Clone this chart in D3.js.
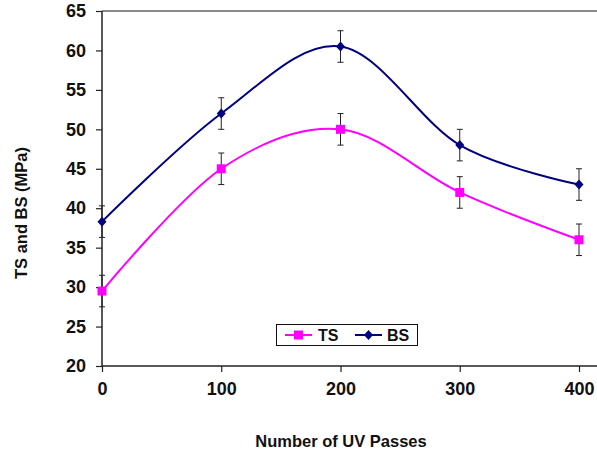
<!DOCTYPE html>
<html>
<head>
<meta charset="utf-8">
<script src="https://cdn.jsdelivr.net/npm/d3@7"></script>
<style>
  html, body { margin: 0; padding: 0; background: #fff; }
  svg { display: block; }
  text { font-family: "Liberation Sans", Arial, sans-serif; font-weight: bold; fill: #111; }
</style>
</head>
<body>
<svg id="chart" width="597" height="455"></svg>
<script>
// UV passes on the x axis
const passes = [0, 100, 200, 300, 400];
// Tensile strength (MPa)
const tsValues = [29.5, 45, 50, 42, 36];
// Bending strength (MPa)
const bsValues = [38.3, 52, 60.5, 48, 43];
// Error bar half-widths (MPa)
const tsErrors = [2, 2, 2, 2, 2];
const bsErrors = [2, 2, 2, 2, 2];
// Axis ticks
const xTicks = [0, 100, 200, 300, 400];
const yTicks = [20, 25, 30, 35, 40, 45, 50, 55, 60, 65];

const svg = d3.select("#chart");
const W = 597, H = 455;
const plotL = 102, plotT = 11, plotB = 366, plotR = 579;

const x = d3.scaleLinear().domain([0, 400]).range([plotL, plotR]);
const y = d3.scaleLinear().domain([20, 65]).range([plotB, plotT]);

// top frame line of plot area
svg.append("line")
  .attr("x1", plotL).attr("x2", W).attr("y1", plotT).attr("y2", plotT)
  .attr("stroke", "#8a8a8a").attr("stroke-width", 2);

// y axis
const yAxis = svg.append("g").attr("transform", `translate(${plotL},0)`)
  .call(d3.axisLeft(y).tickValues(yTicks).tickSize(6).tickPadding(10).tickFormat(d3.format("d")));
yAxis.select(".domain").attr("stroke", "#222").attr("stroke-width", 1.5).attr("d", `M0,${plotT}V${plotB}`);
yAxis.selectAll(".tick line").attr("stroke", "#222").attr("stroke-width", 1.2);
yAxis.selectAll(".tick text").attr("font-size", 18).attr("fill", "#111")
  .attr("font-family", "Liberation Sans, Arial, sans-serif").attr("font-weight", "bold");

// x axis
const xAxis = svg.append("g").attr("transform", `translate(0,${plotB})`)
  .call(d3.axisBottom(x).tickValues(xTicks).tickSize(6).tickPadding(10).tickFormat(d3.format("d")));
xAxis.select(".domain").attr("stroke", "#222").attr("stroke-width", 1.5).attr("d", `M${plotL},0H${W}`);
xAxis.selectAll(".tick line").attr("stroke", "#222").attr("stroke-width", 1.2);
xAxis.selectAll(".tick text").attr("font-size", 18).attr("fill", "#111")
  .attr("font-family", "Liberation Sans, Arial, sans-serif").attr("font-weight", "bold");

// axis titles
svg.append("text")
  .attr("x", 341).attr("y", 447)
  .attr("text-anchor", "middle").attr("font-size", 16.5)
  .text("Number of UV Passes");
svg.append("text")
  .attr("transform", "translate(27,213) rotate(-90)")
  .attr("text-anchor", "middle").attr("font-size", 16.5)
  .text("TS and BS (MPa)");

const curve = d3.curveCatmullRom.alpha(0);
const line = vals => d3.line().curve(curve)
  .x((d, i) => x(passes[i])).y(d => y(d))(vals);

const series = [
  { name: "TS", values: tsValues, errors: tsErrors, color: "#ff00ff", marker: "square" },
  { name: "BS", values: bsValues, errors: bsErrors, color: "#000080", marker: "diamond" }
];

// smoothed lines
series.forEach(s => {
  svg.append("path").attr("d", line(s.values))
    .attr("fill", "none").attr("stroke", s.color).attr("stroke-width", 2);
});

// error bars
series.forEach(s => {
  const g = svg.append("g").attr("stroke", "#222").attr("stroke-width", 1);
  s.values.forEach((v, i) => {
    const cx = x(passes[i]);
    const y1 = y(v - s.errors[i]), y2 = y(v + s.errors[i]);
    g.append("line").attr("x1", cx).attr("x2", cx).attr("y1", y1).attr("y2", y2);
    g.append("line").attr("x1", cx - 3).attr("x2", cx + 3).attr("y1", y1).attr("y2", y1);
    g.append("line").attr("x1", cx - 3).attr("x2", cx + 3).attr("y1", y2).attr("y2", y2);
  });
});

// markers
function drawMarker(g, type, cx, cy, color) {
  if (type === "square") {
    g.append("rect").attr("x", cx - 4.5).attr("y", cy - 4.5)
      .attr("width", 9).attr("height", 9).attr("fill", color);
  } else {
    g.append("path").attr("d", `M${cx},${cy - 5}L${cx + 4.5},${cy}L${cx},${cy + 5}L${cx - 4.5},${cy}Z`)
      .attr("fill", color);
  }
}
series.forEach(s => {
  const g = svg.append("g");
  s.values.forEach((v, i) => drawMarker(g, s.marker, x(passes[i]), y(v), s.color));
});

// legend
const lg = svg.append("g");
lg.append("rect").attr("x", 276.5).attr("y", 324.5).attr("width", 141).attr("height", 21)
  .attr("fill", "#fff").attr("stroke", "#111").attr("stroke-width", 1);
const legendItems = [
  { s: series[0], x0: 285, tx: 318 },
  { s: series[1], x0: 355, tx: 387 }
];
legendItems.forEach(it => {
  const cy = 335;
  lg.append("line").attr("x1", it.x0).attr("x2", it.x0 + 27).attr("y1", cy).attr("y2", cy)
    .attr("stroke", it.s.color).attr("stroke-width", 2);
  drawMarker(lg, it.s.marker, it.x0 + 13.5, cy, it.s.color);
  lg.append("text").attr("x", it.tx).attr("y", cy + 5.5).attr("font-size", 16).text(it.s.name);
});
</script>
</body>
</html>
